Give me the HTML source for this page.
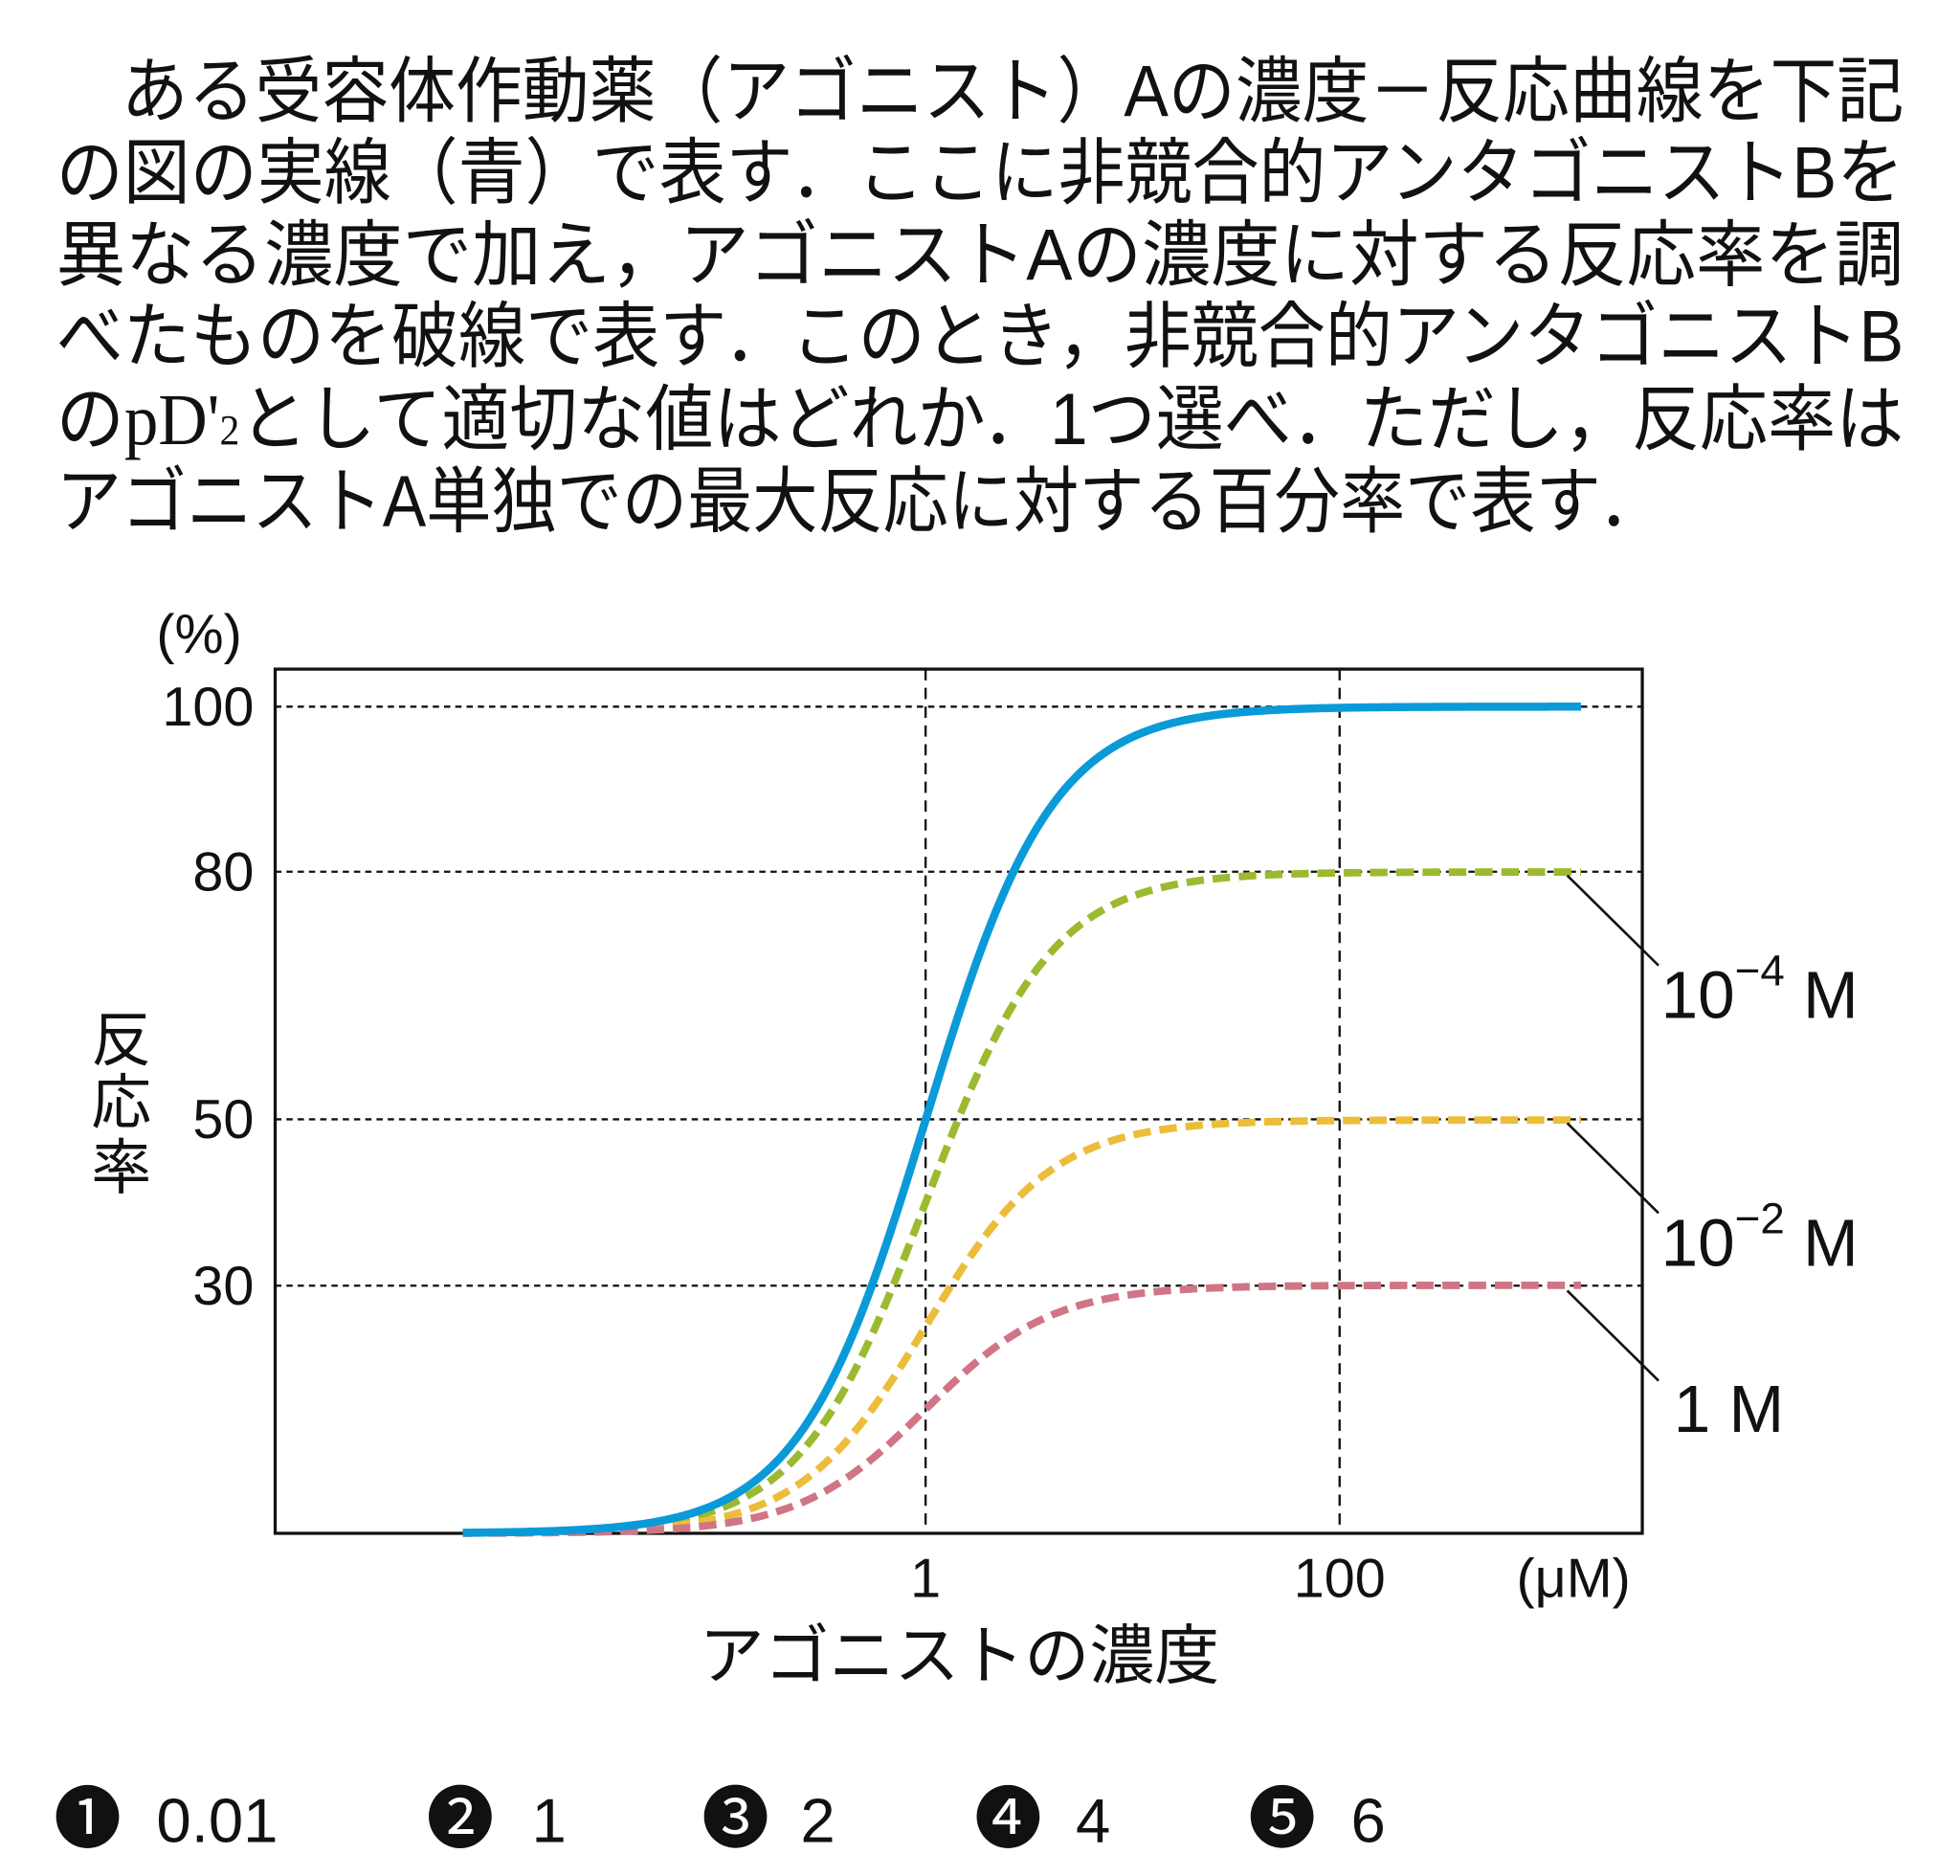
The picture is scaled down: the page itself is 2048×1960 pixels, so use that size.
<!DOCTYPE html>
<html><head><meta charset="utf-8"><style>
html,body{margin:0;padding:0;background:#fff;}
svg{display:block;}
text{font-family:"Liberation Sans","Noto Sans CJK JP",sans-serif;fill:#111;}
</style></head><body>
<svg id="s" width="2048" height="1960" viewBox="0 0 1567 1500" preserveAspectRatio="none" xmlns="http://www.w3.org/2000/svg">
<g font-size="58">
<text x="97" y="93" textLength="1425" lengthAdjust="spacingAndGlyphs">ある受容体作動薬（アゴニスト）Aの濃度－反応曲線を下記</text>
<text x="45" y="158" textLength="1477" lengthAdjust="spacingAndGlyphs">の図の実線（青）で表す．ここに非競合的アンタゴニストBを</text>
<text x="45" y="224" textLength="1477" lengthAdjust="spacingAndGlyphs">異なる濃度で加え，アゴニストAの濃度に対する反応率を調</text>
<text x="45" y="289" textLength="1477" lengthAdjust="spacingAndGlyphs">べたものを破線で表す．このとき，非競合的アンタゴニストB</text>
<text x="45" y="355" textLength="1477" lengthAdjust="spacingAndGlyphs">の<tspan font-family="Liberation Serif">pD'</tspan><tspan font-family="Liberation Serif" font-size="34">2</tspan>として適切な値はどれか．1つ選べ．ただし，反応率は</text>
<text x="45" y="421" textLength="1285" lengthAdjust="spacingAndGlyphs">アゴニストA単独での最大反応に対する百分率で表す．</text>
</g>
<rect x="220" y="535" width="1093" height="691" fill="none" stroke="#111" stroke-width="2.5"/>
<g stroke="#111" stroke-width="1.8" stroke-dasharray="5,4" fill="none">
<line x1="220" y1="565" x2="1313" y2="565"/>
<line x1="220" y1="697" x2="1313" y2="697"/>
<line x1="220" y1="895" x2="1313" y2="895"/>
<line x1="220" y1="1028" x2="1313" y2="1028"/>
<line x1="740" y1="535" x2="740" y2="1226" stroke-dasharray="9,6"/>
<line x1="1071" y1="535" x2="1071" y2="1226" stroke-dasharray="9,6"/>
</g>
<g id="curves"></g>
<g stroke="#111" stroke-width="2" fill="none">
<line x1="1253" y1="700" x2="1326" y2="772"/>
<line x1="1253" y1="898" x2="1326" y2="970"/>
<line x1="1253" y1="1032" x2="1326" y2="1104"/>
</g>
<g font-size="44">
<text x="125" y="522">(%)</text>
<text x="203" y="580" text-anchor="end">100</text>
<text x="203" y="712" text-anchor="end">80</text>
<text x="203" y="910" text-anchor="end">50</text>
<text x="203" y="1043" text-anchor="end">30</text>
<text x="740" y="1277" text-anchor="middle">1</text>
<text x="1071" y="1277" text-anchor="middle">100</text>
<text x="1258" y="1277" text-anchor="middle">(μM)</text>
</g>
<g font-size="48">
<text x="97" y="848" text-anchor="middle">反</text>
<text x="97" y="898" text-anchor="middle">応</text>
<text x="97" y="950" text-anchor="middle">率</text>
<text x="767" y="1342" text-anchor="middle" font-size="52">アゴニストの濃度</text>
</g>
<g font-size="53">
<text x="1328" y="814">10<tspan font-size="35" dy="-26">−4</tspan><tspan dy="26"> M</tspan></text>
<text x="1328" y="1012">10<tspan font-size="35" dy="-26">−2</tspan><tspan dy="26"> M</tspan></text>
<text x="1338" y="1145">1 M</text>
</g>
<g font-size="50">
<text x="70" y="1473" text-anchor="middle" font-size="54">❶</text><text x="125" y="1473">0.01</text>
<text x="368" y="1473" text-anchor="middle" font-size="54">❷</text><text x="425" y="1473">1</text>
<text x="588" y="1473" text-anchor="middle" font-size="54">❸</text><text x="640" y="1473">2</text>
<text x="806" y="1473" text-anchor="middle" font-size="54">❹</text><text x="860" y="1473">4</text>
<text x="1025" y="1473" text-anchor="middle" font-size="54">❺</text><text x="1080" y="1473">6</text>
</g>
</svg>
<script>
(function(){
var g=document.getElementById('curves');
var sets=[[80,'#9bba2f',1],[50,'#ecbd3a',1],[30,'#d07585',1],[100,'#0a9ad8',0]];
sets.forEach(function(s){
 var d='';
 for(var x=370;x<=1265;x+=3){
  var lx=(x-740)/165.5;
  var r=s[0]/(1+Math.pow(10,-1.42*lx));
  var y=1226-r*6.61;
  d+=(d?'L':'M')+x+','+y.toFixed(2);
 }
 var p=document.createElementNS('http://www.w3.org/2000/svg','path');
 p.setAttribute('d',d);p.setAttribute('fill','none');
 p.setAttribute('stroke',s[1]);
 p.setAttribute('stroke-width',s[2]?'6':'6.5');
 if(s[2])p.setAttribute('stroke-dasharray','14,7');
 g.appendChild(p);
});
})();
</script>
</body></html>
